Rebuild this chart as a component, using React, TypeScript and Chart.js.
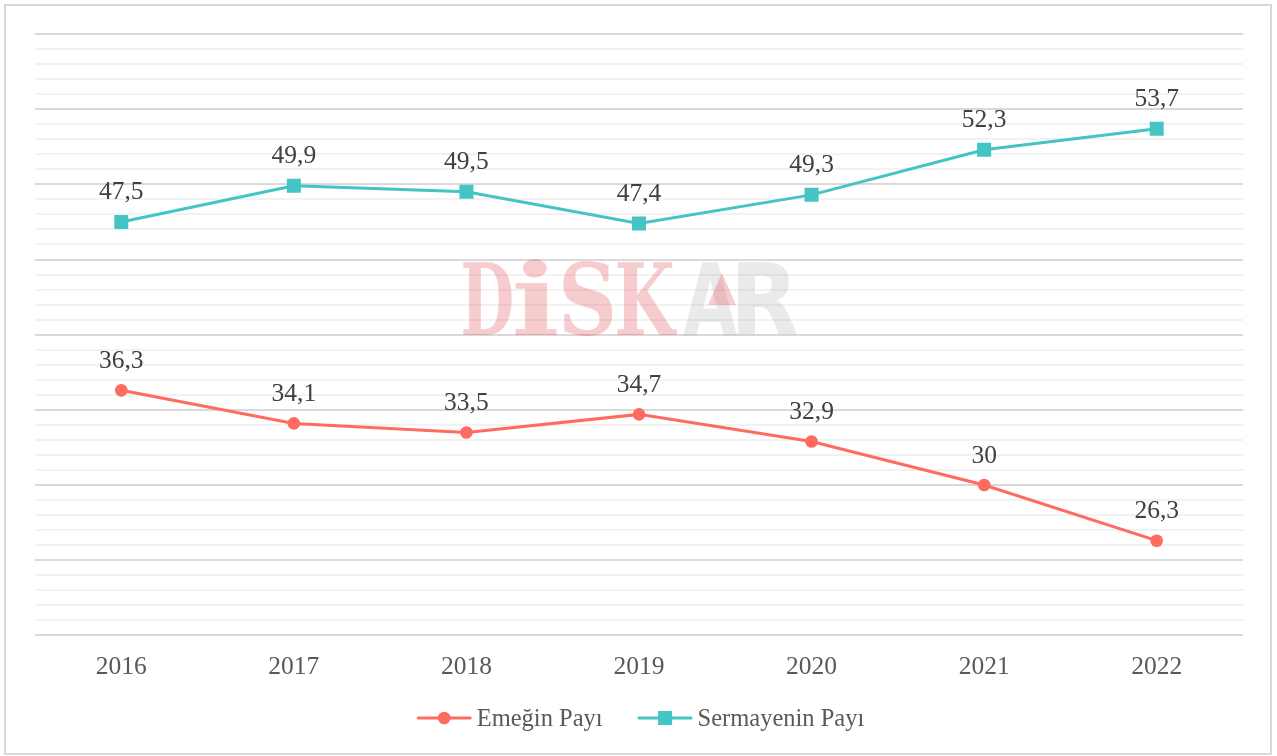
import React, { useEffect, useRef } from "react";
import { Chart, registerables } from "chart.js";
Chart.register(...registerables);

const years = ["2016", "2017", "2018", "2019", "2020", "2021", "2022"];
const emeginPayi = [36.3, 34.1, 33.5, 34.7, 32.9, 30, 26.3];
const sermayeninPayi = [47.5, 49.9, 49.5, 47.4, 49.3, 52.3, 53.7];
const seriesNames = ["Emeğin Payı", "Sermayenin Payı"];
const yMin = 20;
const yMax = 60;

const RED = "#FF6A61";
const TEAL = "#44C4C4";
const FONT = "'Liberation Serif', serif";

const fmt = (v: number) => String(v).replace(".", ",");

export default function App() {
  const ref = useRef<HTMLCanvasElement>(null);
  useEffect(() => {
    document.body.style.margin = "0";
    const canvas = ref.current!;

    const bg = {
      id: "bg",
      beforeDraw(chart: any) {
        const c = chart.ctx;
        c.save();
        c.fillStyle = "#fff";
        c.fillRect(0, 0, chart.width, chart.height);
        c.strokeStyle = "#d9d9d9";
        c.lineWidth = 2;
        c.strokeRect(5, 5, chart.width - 11, chart.height - 7);
        c.restore();
      },
    };

    const watermark = {
      id: "watermark",
      beforeDatasetsDraw(chart: any) {
        const c = chart.ctx;
        c.save();
        const base = 335;
        const pink = "rgba(225,50,60,0.25)";
        const grey = "rgba(150,150,150,0.2)";
        const letters: [string, number, number, string, string][] = [
          ["D", 463, 49, pink, "bold 100px 'DejaVu Serif'"],
          ["i", 515, 42, pink, "bold 100px 'DejaVu Serif'"],
          ["S", 563, 50, pink, "bold 100px 'DejaVu Serif'"],
          ["K", 617, 60, pink, "bold 100px 'DejaVu Serif'"],
          ["A", 683, 54, grey, "bold 100px 'DejaVu Sans'"],
          ["R", 738, 59, grey, "bold 100px 'DejaVu Sans'"],
        ];
        c.textBaseline = "alphabetic";
        c.textAlign = "left";
        for (const [ch, x, w, col, font] of letters) {
          c.font = font;
          const m = c.measureText(ch);
          const mw = m.actualBoundingBoxRight + m.actualBoundingBoxLeft;
          c.save();
          c.translate(x, base);
          c.scale(w / mw, 1);
          c.fillStyle = col;
          c.fillText(ch, m.actualBoundingBoxLeft, 0);
          c.restore();
        }
        c.fillStyle = pink;
        c.beginPath();
        c.moveTo(708, 305);
        c.lineTo(722, 273);
        c.lineTo(736, 305);
        c.closePath();
        c.fill();
        c.restore();
      },
    };

    const labels = {
      id: "labels",
      afterDatasetsDraw(chart: any) {
        const c = chart.ctx;
        c.save();
        c.font = `25.5px ${FONT}`;
        c.fillStyle = "#404040";
        c.textAlign = "center";
        c.textBaseline = "alphabetic";
        chart.data.datasets.forEach((ds: any, i: number) => {
          const meta = chart.getDatasetMeta(i);
          meta.data.forEach((pt: any, j: number) => {
            c.fillText(fmt(ds.data[j]), pt.x, pt.y - 22.5);
          });
        });
        c.restore();
      },
    };

    const legend = {
      id: "customLegend",
      afterDraw(chart: any) {
        const c = chart.ctx;
        c.save();
        c.font = `24.5px ${FONT}`;
        const lineW = 55;
        const gap = 5;
        const spacing = 35;
        const widths = seriesNames.map((n) => c.measureText(n).width);
        const total = lineW * 2 + gap * 2 + spacing + widths[0] + widths[1];
        let x = (chart.width - total) / 2 + 2;
        const yLine = 718;
        const baseline = 726;
        const colors = [RED, TEAL];
        seriesNames.forEach((name, i) => {
          c.strokeStyle = colors[i];
          c.lineWidth = 3;
          c.lineCap = "round";
          c.beginPath();
          c.moveTo(x + 1.5, yLine);
          c.lineTo(x + lineW - 1.5, yLine);
          c.stroke();
          c.fillStyle = colors[i];
          const cx = x + lineW / 2;
          if (i === 0) {
            c.beginPath();
            c.arc(cx, yLine, 6.3, 0, Math.PI * 2);
            c.fill();
          } else {
            c.fillRect(cx - 7, yLine - 7, 14, 14);
          }
          c.fillStyle = "#595959";
          c.textBaseline = "alphabetic";
          c.textAlign = "left";
          c.fillText(name, x + lineW + gap, baseline);
          x += lineW + gap + widths[i] + spacing;
        });
        c.restore();
      },
    };

    const chart = new Chart(canvas, {
      type: "line",
      data: {
        labels: years,
        datasets: [
          {
            label: seriesNames[0],
            data: emeginPayi,
            borderColor: RED,
            backgroundColor: RED,
            borderWidth: 3,
            pointStyle: "circle",
            pointRadius: 6.3,
            pointBorderWidth: 0,
            pointBackgroundColor: RED,
            tension: 0,
          },
          {
            label: seriesNames[1],
            data: sermayeninPayi,
            borderColor: TEAL,
            backgroundColor: TEAL,
            borderWidth: 3,
            pointStyle: "rect",
            pointRadius: 9.9,
            pointBorderWidth: 0,
            pointBackgroundColor: TEAL,
            tension: 0,
          },
        ],
      },
      options: {
        responsive: false,
        animation: false,
        layout: { padding: { left: 35, right: 34, top: 34, bottom: 64 } },
        plugins: {
          legend: { display: false },
          tooltip: { enabled: false },
        },
        scales: {
          x: {
            offset: true,
            grid: { display: false },
            border: { display: false },
            ticks: {
              font: { family: FONT, size: 25.5 },
              color: "#595959",
              padding: 9,
            },
          },
          y: {
            min: yMin,
            max: yMax,
            ticks: { display: false, stepSize: 1 },
            grid: {
              drawTicks: false,
              color: (ctx: any) =>
                ctx.tick && ctx.tick.value % 5 === 0 ? "#d9d9d9" : "#f2f2f2",
              lineWidth: 2,
            },
            border: { display: false },
          },
        },
      },
      plugins: [bg, watermark, labels, legend],
    });
    return () => chart.destroy();
  }, []);
  return (
    <canvas
      ref={ref}
      width={1277}
      height={756}
      style={{ display: "block", width: 1277, height: 756 }}
    />
  );
}
